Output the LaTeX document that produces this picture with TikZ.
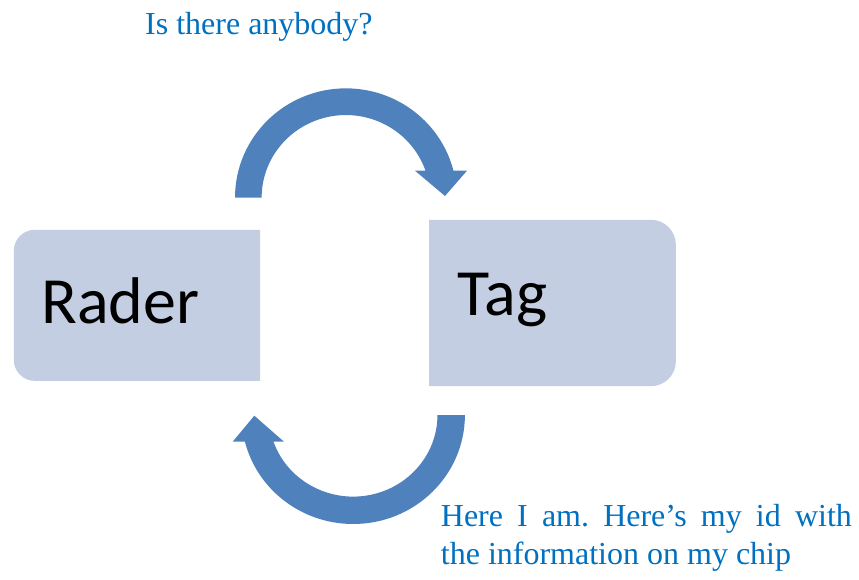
\documentclass[tikz,border=0pt]{standalone}
\usepackage{fontspec}
\setmainfont{Liberation Serif}
\newfontfamily\boxfont{Carlito}
\usetikzlibrary{calc}
\definecolor{boxcol}{RGB}{195,206,227}
\definecolor{arrowcol}{RGB}{79,129,189}
\definecolor{msgcol}{RGB}{0,112,192}
\begin{document}
\frenchspacing
\begin{tikzpicture}[x=1pt,y=1pt,
  boxframe/.style={draw=none, fill=none, inner sep=0pt},
  boxlabel/.style={anchor=base west, inner sep=0pt, font=\boxfont\fontsize{66}{70}\selectfont},
  msg/.style={anchor=base west, inner sep=0pt, text=msgcol, font=\fontsize{32}{38}\selectfont},
  bigarrow/.style={fill=arrowcol, draw=none}]
\useasboundingbox (0,0) rectangle (859,579);

% Reader box: rounded on the left, square on the right
\node[boxframe, minimum width=246pt, minimum height=150.7pt] (raderbox) at (137,273.65) {};
\fill[boxcol] (raderbox.north east) -- ($(raderbox.north west)+(21,0)$)
  arc[start angle=90, end angle=180, radius=21] -- ($(raderbox.south west)+(0,21)$)
  arc[start angle=180, end angle=270, radius=21] -- (raderbox.south east) -- cycle;
\node[boxlabel] (rader) at (41,255.7) {Rader};

% Tag box: square on the left, rounded on the right
\node[boxframe, minimum width=246.4pt, minimum height=166pt] (tagbox) at (552.5,276) {};
\fill[boxcol] (tagbox.north west) -- ($(tagbox.north east)+(-25,0)$)
  arc[start angle=90, end angle=0, radius=25] -- ($(tagbox.south east)+(0,25)$)
  arc[start angle=0, end angle=-90, radius=25] -- (tagbox.south west) -- cycle;
\node[boxlabel] (tag) at (457.5,264) {Tag};

% Upper curved arrow: reader to tag
\coordinate (qstart) at (235,381.3);
\fill[bigarrow] (qstart) arc[start angle=180, end angle=14.3, x radius=110.95, y radius=109.35]
  -- (467,408.3) -- (445,383) -- (415,408.3) -- (425.5,408.3)
  arc[start angle=19.07, end angle=180, x radius=84.25, y radius=82.65] -- cycle;

% Lower curved arrow: tag back to reader
\coordinate (astart) at (464.9,164);
\fill[bigarrow] (astart) arc[start angle=0, end angle=-165.82, x radius=111.7, y radius=109]
  -- (232.7,137.3) -- (254.3,163.3) -- (284,137.3) -- (273.5,137.3)
  arc[start angle=-160.9, end angle=0, x radius=84.3, y radius=81.6] -- cycle;

% Messages
\node[msg] (question) at (145,544) {Is there anybody?};
\node[msg] (answer1) at (440.7,53) {\makebox[411pt][s]{Here I am. Here’s my id with}};
\node[msg] (answer2) at (440.7,15) {the information on my chip};
\end{tikzpicture}
\end{document}
